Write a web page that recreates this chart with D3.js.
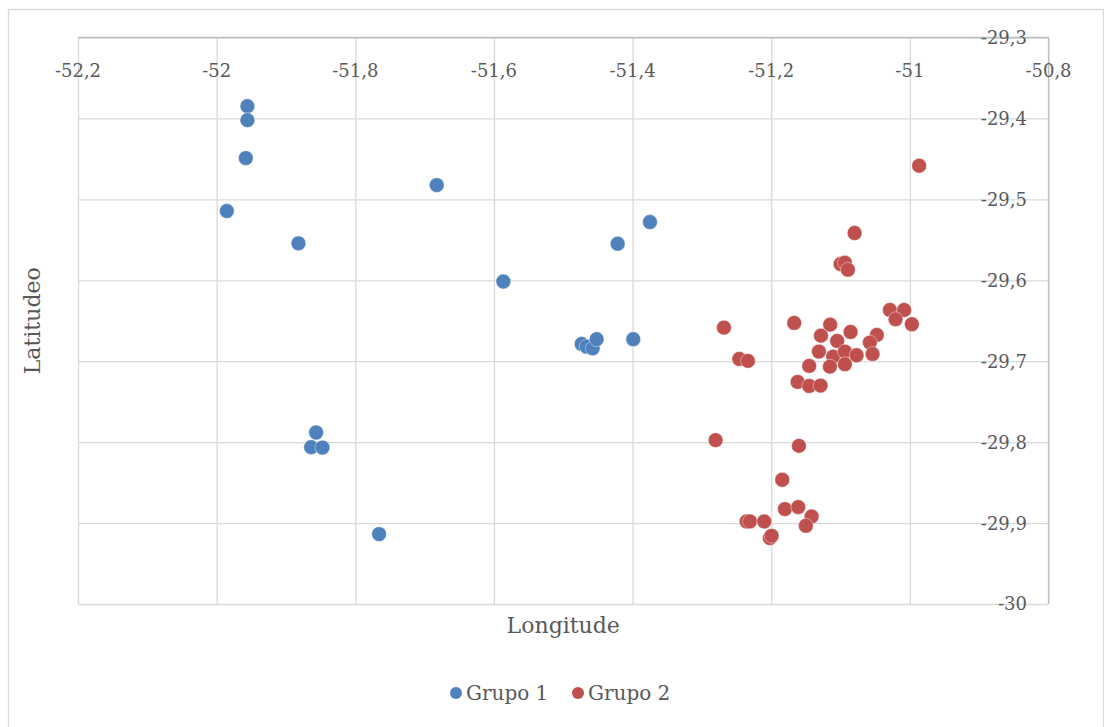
<!DOCTYPE html>
<html>
<head>
<meta charset="utf-8">
<script src="https://cdn.jsdelivr.net/npm/d3@7/dist/d3.min.js"></script>
<style>
  html, body { margin: 0; padding: 0; background: #fff; }
  svg { display: block; }
  text { font-family: "DejaVu Serif", serif; fill: #595959; }
</style>
</head>
<body>
<svg id="chart" width="1104" height="727"></svg>
<script>
// Longitude / latitude of the sampled sites, by group
const grupo1Lon = [-51.9556, -51.9556, -51.9579, -51.9853, -51.8820, -51.6825, -51.5864, -51.3749, -51.4215,
  -51.4734, -51.4662, -51.4575, -51.4518, -51.3990, -51.8565, -51.8637, -51.8474, -51.7657];
const grupo1Lat = [-29.3848, -29.4021, -29.4490, -29.5144, -29.5543, -29.4823, -29.6015, -29.5280, -29.5548,
  -29.6786, -29.6820, -29.6840, -29.6728, -29.6728, -29.7881, -29.8062, -29.8067, -29.9136];

const grupo2Lon = [-50.9866, -51.0797, -51.0999, -51.0937, -51.0894, -51.2682, -51.2461, -51.2336, -51.1668,
  -51.1149, -51.1283, -51.0855, -51.1048, -51.1312, -51.0476, -51.0577, -51.0538, -51.0288, -51.0082,
  -51.0206, -50.9971, -51.1106, -51.0937, -51.0768, -51.1153, -51.0937, -51.1452, -51.1619, -51.1452,
  -51.1288, -51.2802, -51.1600, -51.1841, -51.1802, -51.1610, -51.1417, -51.1500, -51.2355, -51.2307,
  -51.2101, -51.2019, -51.1994];
const grupo2Lat = [-29.4585, -29.5416, -29.5799, -29.5783, -29.5869, -29.6585, -29.6972, -29.6996, -29.6527,
  -29.6548, -29.6684, -29.6638, -29.6749, -29.6881, -29.6675, -29.6770, -29.6910, -29.6367, -29.6367,
  -29.6481, -29.6543, -29.6943, -29.6881, -29.6926, -29.7067, -29.7037, -29.7058, -29.7256, -29.7305,
  -29.7301, -29.7975, -29.8046, -29.8465, -29.8827, -29.8802, -29.8919, -29.9033, -29.8980, -29.8980,
  -29.8980, -29.9185, -29.9157];

const xTicks = [-52.2, -52, -51.8, -51.6, -51.4, -51.2, -51, -50.8];
const yTicks = [-29.3, -29.4, -29.5, -29.6, -29.7, -29.8, -29.9, -30];

const seriesNames = ["Grupo 1", "Grupo 2"];
const seriesColors = ["#4f81bd", "#c0504d"];

const series = [
  { name: seriesNames[0], color: seriesColors[0], pts: grupo1Lon.map((x, i) => [x, grupo1Lat[i]]) },
  { name: seriesNames[1], color: seriesColors[1], pts: grupo2Lon.map((x, i) => [x, grupo2Lat[i]]) }
];

// Plot frame
const L = 78, R = 1048.5, T = 37.5, B = 604;

const svg = d3.select("#chart");
const fmt = d3.formatLocale({ decimal: ",", thousands: ".", grouping: [3], currency: ["", ""], minus: "-" }).format("~g");

const x = d3.scaleLinear().domain([-52.2, -50.8]).range([L, R]);
const y = d3.scaleLinear().domain([-29.3, -30]).range([T, B]);

// Outer chart border
svg.append("rect")
  .attr("x", 8.5).attr("y", 9.5).attr("width", 1095).attr("height", 740)
  .attr("fill", "#fff").attr("stroke", "#d9d9d9").attr("stroke-width", 1.3);

// Gridlines
const gx = svg.append("g").attr("transform", `translate(0,${B})`)
  .call(d3.axisBottom(x).tickValues(xTicks).tickSize(-(B - T)).tickFormat(""));
const gy = svg.append("g").attr("transform", `translate(${L},0)`)
  .call(d3.axisLeft(y).tickValues(yTicks).tickSize(-(R - L)).tickFormat(""));
[gx, gy].forEach(g => {
  g.select(".domain").remove();
  g.selectAll(".tick line").attr("stroke", "#d9d9d9").attr("stroke-width", 1.3);
});

// Axis lines: horizontal axis crosses at the top, vertical axis at the right
svg.append("line").attr("x1", L).attr("x2", R).attr("y1", T).attr("y2", T)
  .attr("stroke", "#bfbfbf").attr("stroke-width", 1.3);
svg.append("line").attr("x1", R).attr("x2", R).attr("y1", T).attr("y2", B)
  .attr("stroke", "#bfbfbf").attr("stroke-width", 1.3);

// Tick labels
svg.append("g").selectAll("text").data(xTicks).join("text")
  .attr("x", d => x(d)).attr("y", 77)
  .attr("text-anchor", "middle").attr("font-size", 18)
  .text(d => fmt(d));
svg.append("g").selectAll("text").data(yTicks).join("text")
  .attr("x", 1027).attr("y", d => y(d)).attr("dy", "0.36em")
  .attr("text-anchor", "end").attr("font-size", 18)
  .text(d => fmt(d));

// Axis titles
svg.append("text").attr("x", (L + R) / 2).attr("y", 633)
  .attr("text-anchor", "middle").attr("font-size", 22).text("Longitude");
svg.append("text").attr("transform", `translate(40,${(T + B) / 2}) rotate(-90)`)
  .attr("text-anchor", "middle").attr("font-size", 22).text("Latitudeo");

// Points
series.forEach(s => {
  svg.append("g").selectAll("circle").data(s.pts).join("circle")
    .attr("cx", d => x(d[0])).attr("cy", d => y(d[1])).attr("r", 7.4)
    .attr("fill", s.color)
    .attr("stroke", "rgba(255,255,255,0.55)").attr("stroke-width", 0.75);
});

// Legend
const legendX = [456, 578];
const leg = svg.append("g");
series.forEach((s, i) => {
  leg.append("circle").attr("cx", legendX[i]).attr("cy", 693).attr("r", 6).attr("fill", s.color);
  leg.append("text").attr("x", legendX[i] + 10).attr("y", 700)
    .attr("font-size", 20).text(s.name);
});
</script>
</body>
</html>
